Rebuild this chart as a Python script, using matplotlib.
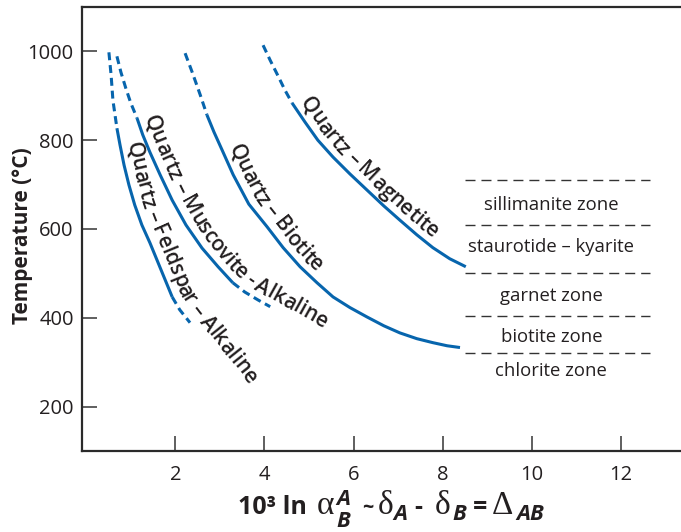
import numpy as np
import matplotlib
matplotlib.use('Agg')
import matplotlib.pyplot as plt
from matplotlib.font_manager import FontProperties, findfont
from matplotlib.ft2font import FT2Font
from matplotlib.transforms import IdentityTransform

plt.rcParams['font.family'] = ['Open Sans', 'DejaVu Sans']

BLUE = '#0765ad'
INK = '#231f20'

# fractionation curves: 10^3 ln alpha vs temperature (C)
feldspar_x = [0.51, 0.56, 0.60, 0.69, 0.76, 0.85, 0.96, 1.09, 1.25, 1.43, 1.68, 1.93, 2.10, 2.33]
feldspar_y = [998, 946, 890, 827, 789, 744, 699, 654, 609, 569, 508, 447, 418, 389]
feldspar_solid = (3, 11)

muscovite_x = [0.69, 0.78, 0.89, 1.00, 1.14, 1.27, 1.43, 1.66, 1.93, 2.24, 2.60, 2.96, 3.29,
               3.56, 3.86, 4.13]
muscovite_y = [989, 953, 917, 884, 850, 812, 773, 722, 665, 609, 557, 515, 479, 458, 440, 425]
muscovite_solid = (4, 12)

biotite_x = [2.22, 2.38, 2.56, 2.71, 2.87, 3.05, 3.30, 3.65, 4.06, 4.42, 4.80, 5.18, 5.54,
             5.92, 6.30, 6.68, 7.04, 7.42, 7.78, 8.10, 8.39]
biotite_y = [996, 953, 902, 857, 818, 778, 722, 656, 605, 558, 515, 479, 447, 423, 402,
             382, 366, 353, 344, 337, 333]
biotite_solid = (3, 20)

magnetite_x = [3.97, 4.13, 4.31, 4.46, 4.62, 4.91, 5.20, 5.54, 5.92, 6.30, 6.68, 7.04, 7.42,
               7.78, 8.16, 8.52]
magnetite_y = [1014, 980, 944, 913, 884, 841, 800, 762, 724, 688, 652, 620, 587, 558, 533, 515]
magnetite_solid = (4, 15)

# metamorphic zone boundaries and names
zone_bounds = [710, 610, 500, 405, 320]
zone_names = ['sillimanite zone', 'staurotide – kyarite', 'garnet zone',
              'biotite zone', 'chlorite zone']
zone_label_y = [655, 560, 450, 357, 281]
zone_x = [8.5, 12.65]
zone_label_x = 10.44

fig = plt.figure(figsize=(6.81, 5.32), dpi=100)
ax = fig.add_axes([0.1204, 0.1523, 0.8796, 0.8345])
ax.set_xlim(-0.094, 13.35)
ax.set_ylim(100, 1100)

def draw_curve(xs, ys, solid):
    i, j = solid
    ax.plot(xs[:i + 1], ys[:i + 1], color=BLUE, lw=2.2, dashes=(2.6, 1.6),
            dash_capstyle='butt')
    ax.plot(xs[i:j + 1], ys[i:j + 1], color=BLUE, lw=2.2, solid_capstyle='butt',
            solid_joinstyle='round')
    if j < len(xs) - 1:
        ax.plot(xs[j:], ys[j:], color=BLUE, lw=2.2, dashes=(2.6, 1.6),
                dash_capstyle='butt')

draw_curve(feldspar_x, feldspar_y, feldspar_solid)
draw_curve(muscovite_x, muscovite_y, muscovite_solid)
draw_curve(biotite_x, biotite_y, biotite_solid)
draw_curve(magnetite_x, magnetite_y, magnetite_solid)

for yb in zone_bounds:
    ax.plot(zone_x, [yb, yb], color='#333333', lw=1.0, dashes=(7.2, 4.3))
for name, yl in zip(zone_names, zone_label_y):
    ax.text(zone_label_x, yl, name, ha='center', va='center', fontsize=13.3, color=INK)

# curve labels, laid letter by letter along each curve
label_fp = FontProperties(family='Open Sans', weight='semibold', size=15)
label_font = FT2Font(findfont(label_fp))
label_font.set_size(15, fig.dpi)

def label_along(xs, ys, text, start, offset=7):
    pts = ax.transData.transform(np.column_stack([xs, ys]))
    s = np.concatenate([[0], np.cumsum(np.hypot(*np.diff(pts, axis=0).T))])
    L = s[-1]
    d0 = (pts[1] - pts[0]) / s[1]
    d1 = (pts[-1] - pts[-2]) / (s[-1] - s[-2])
    def at(v):
        if v < 0:
            return pts[0] + d0 * v
        if v > L:
            return pts[-1] + d1 * (v - L)
        return np.array([np.interp(v, s, pts[:, 0]), np.interp(v, s, pts[:, 1])])
    grid = np.linspace(0, L, 3000)
    gp = np.column_stack([np.interp(grid, s, pts[:, 0]), np.interp(grid, s, pts[:, 1])])
    p0 = ax.transData.transform(start)
    pos = grid[np.argmin(np.hypot(*(gp - p0).T))]
    for ch in text:
        adv = label_font.load_char(ord(ch)).linearHoriAdvance / 65536
        c = pos + adv / 2
        a, b = at(c - 12), at(c + 12)
        ang = np.arctan2(b[1] - a[1], b[0] - a[0])
        p = at(c) + offset * np.array([-np.sin(ang), np.cos(ang)])
        ax.text(p[0], p[1], ch, transform=IdentityTransform(),
                rotation=np.degrees(ang), rotation_mode='anchor',
                ha='center', va='baseline', fontproperties=label_fp, color=INK)
        pos += adv

label_along(feldspar_x, feldspar_y, 'Quartz – Feldspar – Alkaline', (0.92, 793))
label_along(muscovite_x, muscovite_y, 'Quartz – Muscovite - Alkaline', (1.39, 852))
label_along(biotite_x, biotite_y, 'Quartz – Biotite', (3.30, 789))
label_along(magnetite_x, magnetite_y, 'Quartz – Magnetite', (4.87, 890))

ax.set_xticks([2, 4, 6, 8, 10, 12])
ax.set_yticks([200, 400, 600, 800, 1000])
ax.tick_params(axis='both', direction='in', length=11, width=1.2,
               color='#444444', labelsize=14.5, labelcolor=INK)
ax.tick_params(axis='x', pad=10)
ax.tick_params(axis='y', pad=6)
for side in ['left', 'bottom', 'top']:
    ax.spines[side].set_linewidth(1.6)
    ax.spines[side].set_color('#2a2a2a')
ax.spines['right'].set_visible(False)

ax.set_ylabel('Temperature (°C)', fontsize=15, fontweight='bold', color=INK)
ax.yaxis.set_label_coords(-0.082, 0.485)

# x-axis title built from pieces: (text, font, raise in px, gap before in px, advance)
main = FontProperties(family='Open Sans', weight='bold', size=18)
script = FontProperties(family='Open Sans', weight='bold', style='italic', size=16)
greek = FontProperties(family='Liberation Serif', size=24)
tilde = FontProperties(family='Open Sans', weight='bold', size=14)
xtitle = [
    ('10³ ln', main, 0, 0, True),
    ('α', greek, 0, 10, True),
    ('A', script, 9, 2, False),
    ('B', script, -13, 2, True),
    ('~', tilde, 1, 12, True),
    ('δ', greek, 0, 4, True),
    ('A', script, -6, 0, True),
    ('-', main, 0, 7, True),
    ('δ', greek, 0, 13, True),
    ('B', script, -6, 2, True),
    ('=', main, 0, 6, True),
    ('Δ', greek, 0, 5, True),
    ('AB', script, -6, 3, True),
]
renderer = fig.canvas.get_renderer()
title_base = 18
x = 0
placed = []
for s, fp, dy, gap, adv in xtitle:
    t = fig.text(0, title_base + dy, s, transform=IdentityTransform(),
                 fontproperties=fp, color=INK, ha='left', va='baseline')
    w = t.get_window_extent(renderer).width
    placed.append((t, x + gap))
    if adv:
        x += gap + w
shift = 391 - x / 2
for t, xl in placed:
    t.set_x(xl + shift)

fig.savefig('out.png', dpi=100)
